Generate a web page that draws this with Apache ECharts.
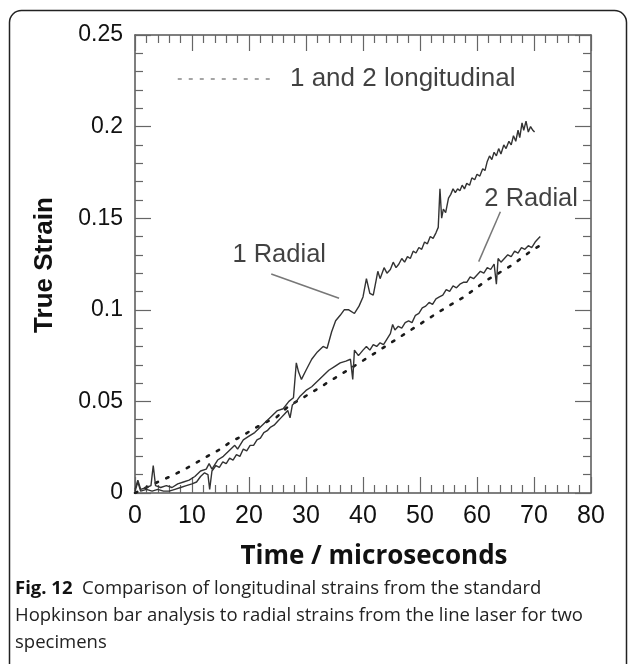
<!DOCTYPE html>
<html><head><meta charset="utf-8">
<script src="https://cdn.jsdelivr.net/npm/echarts@6/dist/echarts.min.js"></script>
<style>html,body{margin:0;padding:0;background:#fff;}#c{width:629px;height:664px;}</style>
</head><body><div id="c"></div>
<script>
// ---- data ----
const xTickLabels = ['0','10','20','30','40','50','60','70','80'];
const yTickLabels = ['0','0.05','0.1','0.15','0.2','0.25'];

const radial1 = [
[0,0.002],[0.5,0.007],[1,0.002],[2,0.003],[2.8,0.004],[3.2,0.015],[3.6,0.004],[4.5,0.003],[5.5,0.004],[6.5,0.003],
[7.5,0.005],[8.5,0.006],[9.5,0.007],[10.5,0.009],[11.5,0.012],[12.5,0.013],[13,0.016],[13.5,0.013],[14.5,0.018],[15.5,0.020],
[16.5,0.023],[17.5,0.026],[18,0.024],[19,0.029],[20,0.031],[21,0.033],[22,0.036],[23,0.039],[24,0.042],[25,0.045],
[26,0.046],[27,0.050],[27.8,0.052],[28.3,0.071],[28.7,0.066],[29.2,0.062],[30,0.067],[31,0.073],[32,0.077],[33,0.080],
[33.7,0.079],[34.5,0.088],[35.2,0.094],[36,0.097],[36.7,0.100],[37.5,0.100],[38.5,0.098],[39.3,0.102],[40,0.107],[40.6,0.117],
[41.2,0.109],[41.8,0.108],[42.3,0.116],[42.6,0.121],[43.0,0.117],[43.3,0.118],[43.7,0.123],[44.2,0.120],[44.8,0.122],[45.3,0.126],
[45.8,0.123],[46.3,0.125],[46.8,0.128],[47.3,0.126],[47.8,0.129],[48.3,0.128],[48.8,0.132],[49.3,0.131],[49.8,0.134],[50.3,0.133],
[50.8,0.137],[51.3,0.136],[51.8,0.140],[52.3,0.139],[52.8,0.142],[53.2,0.145],[53.5,0.166],[53.8,0.150],[54.1,0.155],[54.5,0.153],
[55,0.161],[55.4,0.163],[55.8,0.166],[56.2,0.164],[56.6,0.166],[57,0.165],[57.4,0.168],[57.8,0.166],[58.2,0.169],[58.7,0.168],
[59.1,0.172],[59.6,0.171],[60,0.174],[60.5,0.173],[61,0.177],[61.4,0.176],[61.8,0.181],[62.2,0.184],[62.6,0.182],[63,0.186],
[63.4,0.184],[63.8,0.188],[64.2,0.185],[64.7,0.190],[65.1,0.188],[65.6,0.192],[66,0.190],[66.4,0.195],[66.8,0.192],[67.2,0.198],
[67.5,0.194],[67.9,0.202],[68.2,0.198],[68.6,0.203],[69,0.197],[69.4,0.200],[69.8,0.198],[70.1,0.197]
];

const radial2 = [
[0,0.001],[0.5,0.006],[1,0.001],[2,0.002],[3,0.001],[4,0.002],[5,0.001],[6,0.001],[7,0.002],[8,0.003],
[9,0.004],[10,0.005],[10.8,0.006],[11.5,0.009],[12.2,0.011],[12.8,0.010],[13.1,0.002],[13.5,0.012],[14.2,0.015],[14.8,0.014],
[15.4,0.017],[16,0.016],[16.6,0.019],[17.2,0.018],[17.8,0.021],[18.4,0.020],[19,0.024],[19.6,0.023],[20.2,0.026],[20.8,0.026],
[21.4,0.029],[22,0.030],[22.6,0.033],[23.2,0.034],[23.8,0.036],[24.4,0.037],[25,0.039],[25.6,0.041],[26.2,0.043],[26.8,0.045],
[27.2,0.041],[27.6,0.048],[28.3,0.050],[29,0.053],[30,0.056],[31,0.058],[32,0.061],[33,0.064],[34,0.067],[35,0.069],
[36,0.071],[37,0.072],[37.8,0.073],[38.2,0.062],[38.5,0.078],[39.2,0.075],[40,0.078],[40.6,0.080],[41.2,0.078],[41.8,0.081],
[42.4,0.080],[43,0.082],[43.6,0.081],[44.2,0.084],[44.8,0.087],[45.2,0.092],[45.6,0.089],[46.2,0.091],[46.8,0.090],[47.4,0.093],
[48,0.094],[48.6,0.093],[49.2,0.097],[49.8,0.098],[50.4,0.101],[51,0.102],[51.6,0.104],[52.2,0.103],[52.8,0.106],[53.4,0.107],
[54,0.108],[54.6,0.111],[55.2,0.110],[55.8,0.113],[56.4,0.112],[57,0.114],[57.6,0.115],[58.2,0.115],[58.8,0.118],[59.4,0.117],
[60,0.119],[60.6,0.121],[61.2,0.120],[61.8,0.123],[62.4,0.122],[63,0.125],[63.4,0.114],[63.7,0.128],[64.2,0.126],[64.8,0.128],
[65.4,0.130],[66,0.129],[66.6,0.132],[67.2,0.131],[67.8,0.134],[68.4,0.133],[69,0.135],[69.6,0.134],[70.2,0.137],[70.8,0.139],
[71.1,0.140]
];

const longitudinal = [
[0,0.000],[2,0.003],[4,0.006],[6.1,0.0089],[8.5,0.0126],[10.8,0.0166],[12.8,0.0202],[14.9,0.0238],[16.6,0.0275],[18.7,0.031],
[20.7,0.0348],[22.8,0.0384],[24.8,0.0413],[26.8,0.047],[28.9,0.051],[30.9,0.0547],[35,0.0626],[41.1,0.0744],[45.2,0.0826],[49.3,0.0908],
[53.4,0.099],[57.8,0.1072],[61.8,0.1163],[66.2,0.1245],[69.7,0.1326],[71,0.135]
];

const legendSample = [[7.5,0.226],[24.8,0.226]];
const annotationTexts = ['1 and 2 longitudinal','1 Radial','2 Radial'];
const annotationPos = [[27.1,0.226],[25.3,0.130],[69.5,0.1607]];
const leader1 = [[23.9,0.1195],[35.8,0.1063]];
const leader2 = [[64.1,0.1535],[60.3,0.1263]];

const xTitle = 'Time / microseconds';
const yTitle = 'True Strain';
const captionBold = 'Fig. 12';
const captionLines = [
  'Comparison of longitudinal strains from the standard',
  'Hopkinson bar analysis to radial strains from the line laser for two',
  'specimens'
];

// ---- chart ----
const chart = echarts.init(document.getElementById('c'), null, {renderer:'canvas'});
const AX = '"Liberation Sans", Arial, sans-serif';
const CAP = '"Open Sans", sans-serif';

function axisBase(extra){
  return Object.assign({
    type:'value',
    axisLine:{show:true, onZero:false, lineStyle:{color:'#555', width:1.5}},
    axisTick:{show:true, inside:true, length:16, lineStyle:{color:'#666', width:1.2}},
    minorTick:{show:true, splitNumber:5, length:8, lineStyle:{color:'#666', width:1.2}},
    splitLine:{show:false},
    minorSplitLine:{show:false}
  }, extra);
}

const lineSeries = (data, style) => ({
  type:'line', data, showSymbol:false, symbol:'none', silent:true, animation:false,
  xAxisIndex:0, yAxisIndex:0, lineStyle: style, z: 3
});

chart.setOption({
  animation:false,
  backgroundColor:'#fff',
  grid:{left:135, top:35, width:456, height:458, outerBoundsMode:'none', containLabel:false},
  xAxis:[
    axisBase({min:0, max:80, interval:10, position:'bottom',
      axisLabel:{show:true, margin:11, color:'#111', fontSize:25, fontFamily:AX,
        formatter:(v)=>xTickLabels[Math.round(v/10)]}}),
    axisBase({min:0, max:80, interval:10, position:'top', axisLabel:{show:false}})
  ],
  yAxis:[
    axisBase({min:0, max:0.25, interval:0.05, position:'left',
      axisLabel:{show:true, margin:12, color:'#111', fontSize:23, fontFamily:AX,
        formatter:(v)=>yTickLabels[Math.round(v/0.05)]}}),
    axisBase({min:0, max:0.25, interval:0.05, position:'right', axisLabel:{show:false}})
  ],
  series:[
    lineSeries(longitudinal, {color:'#1a1a1a', width:2.6, type:[2.5,9], cap:'round'}),
    lineSeries(radial2, {color:'#333', width:1.4}),
    lineSeries(radial1, {color:'#333', width:1.4}),
    lineSeries(legendSample, {color:'#888', width:1.6, type:[4,7]}),
    lineSeries(leader1, {color:'#777', width:1.5}),
    lineSeries(leader2, {color:'#777', width:1.5}),
    {
      type:'scatter', silent:true, animation:false, symbolSize:1,
      itemStyle:{color:'rgba(0,0,0,0)'},
      data: annotationPos.map((p,i)=>({value:p, name:annotationTexts[i],
        label:{show:true, position: i===0 ? 'right' : 'inside', distance:0,
          formatter:annotationTexts[i], color:'#111', fontSize: i===0 ? 26 : 25.5, fontFamily:AX}}))
    }
  ],
  graphic:[
    {type:'rect', z:-10, shape:{x:9.5, y:10.5, width:617, height:700, r:12},
      style:{fill:'none', stroke:'#222', lineWidth:1.5}},
    {type:'text', x:45, y:265, rotation:Math.PI/2,
      style:{text:yTitle, font:'bold 26px '+AX, fill:'#111', textAlign:'center', textVerticalAlign:'middle', align:'center', verticalAlign:'middle'}},
    {type:'text', x:374, y:557,
      style:{text:xTitle, font:'bold 26px '+CAP, fill:'#111', textAlign:'center', textVerticalAlign:'middle', align:'center', verticalAlign:'middle'}},
    {type:'text', x:15, y:589,
      style:{text:'{b|'+captionBold+'}  '+captionLines[0], font:'18.5px '+CAP, fill:'#222', textVerticalAlign:'middle', verticalAlign:'middle',
        rich:{b:{font:'bold 18.5px '+CAP, fill:'#111'}}}},
    {type:'text', x:15, y:616,
      style:{text:captionLines[1], font:'18.5px '+CAP, fill:'#222', textVerticalAlign:'middle', verticalAlign:'middle'}},
    {type:'text', x:15, y:643,
      style:{text:captionLines[2], font:'18.5px '+CAP, fill:'#222', textVerticalAlign:'middle', verticalAlign:'middle'}}
  ]
});
</script></body></html>
